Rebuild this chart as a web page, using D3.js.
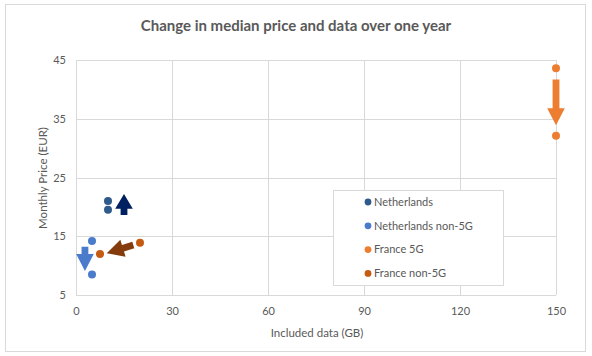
<!DOCTYPE html>
<html><head><meta charset="utf-8">
<script src="https://cdn.jsdelivr.net/npm/d3@7"></script>
<style>body{margin:0;background:#fff}svg{display:block}text{font-family:Lato,"Open Sans",sans-serif;fill:#595959}</style>
</head><body><svg id="c" width="592" height="356"></svg>
<script>
const title = "Change in median price and data over one year";
const xLabel = "Included data (GB)";
const yLabel = "Monthly Price (EUR)";
const xTicks = [0, 30, 60, 90, 120, 150];
const yTicks = [5, 15, 25, 35, 45];
const seriesNames = ["Netherlands", "Netherlands non-5G", "France 5G", "France non-5G"];
const seriesColors = ["#2E5A8C", "#4A7CCB", "#ED7D31", "#C55A11"];
const netherlandsX = [10, 10];
const netherlandsY = [21, 19.5];
const netherlandsNon5gX = [5, 5];
const netherlandsNon5gY = [14.2, 8.5];
const france5gX = [150, 150];
const france5gY = [43.6, 32.1];
const franceNon5gX = [7.5, 20];
const franceNon5gY = [12, 13.9];
// arrows: tail -> tip in data units
const arrowNames = ["Netherlands", "Netherlands non-5G", "France 5G", "France non-5G"];
const arrowColors = ["#002060", "#4A7CCB", "#ED7D31", "#843C0C"];
const arrowFrom = [[15, 18.6], [2.8, 13.2], [150, 41.7], [17.9, 13.5]];
const arrowTo = [[15, 22.2], [2.8, 9.1], [150, 33.9], [9.6, 12.1]];

const svg = d3.select("#c");
svg.append("rect").attr("x", 5.5).attr("y", 4.5).attr("width", 580).attr("height", 347)
  .attr("fill", "#fff").attr("stroke", "#d9d9d9");

const x = d3.scaleLinear().domain([0, 150]).range([76, 556]);
const y = d3.scaleLinear().domain([5, 45]).range([295, 60]);

const g = svg.append("g");
g.selectAll(".hg").data(yTicks).join("line")
  .attr("x1", x(0)).attr("x2", x(150))
  .attr("y1", d => Math.round(y(d)) + 0.5).attr("y2", d => Math.round(y(d)) + 0.5)
  .attr("stroke", "#d9d9d9");
g.selectAll(".vg").data(xTicks).join("line")
  .attr("y1", y(5)).attr("y2", y(45))
  .attr("x1", d => Math.round(x(d)) + 0.5).attr("x2", d => Math.round(x(d)) + 0.5)
  .attr("stroke", "#d9d9d9");

const xa = svg.append("g").attr("transform", `translate(0,${y(5)})`)
  .call(d3.axisBottom(x).tickValues(xTicks).tickSize(0).tickPadding(10));
const ya = svg.append("g").attr("transform", `translate(${x(0)},0)`)
  .call(d3.axisLeft(y).tickValues(yTicks).tickSize(0).tickPadding(10));
[xa, ya].forEach(a => {
  a.select(".domain").remove();
  a.selectAll("text").attr("font-size", 11).attr("fill", "#595959")
    .style("font-family", "Lato, sans-serif");
});
xa.selectAll("text").attr("dy", "0.9em");

svg.append("text").attr("x", 296).attr("y", 31).attr("text-anchor", "middle")
  .attr("font-size", 15).attr("font-weight", "bold").text(title);
svg.append("text").attr("x", 317).attr("y", 337).attr("text-anchor", "middle")
  .attr("font-size", 11.5).text(xLabel);
svg.append("text").attr("transform", "translate(47,178) rotate(-90)").attr("text-anchor", "middle")
  .attr("font-size", 11.5).text(yLabel);

function arrowPath(p0, p1) {
  const x0 = x(p0[0]), y0 = y(p0[1]), x1 = x(p1[0]), y1 = y(p1[1]);
  const dx = x1 - x0, dy = y1 - y0, L = Math.hypot(dx, dy);
  const ux = dx / L, uy = dy / L, nx = -uy, ny = ux;
  const sw = 3.4, hw = 8.8, hl = Math.min(17, L * 0.7);
  const bx = x1 - ux * hl, by = y1 - uy * hl;
  const pts = [
    [x0 + nx * sw, y0 + ny * sw], [bx + nx * sw, by + ny * sw], [bx + nx * hw, by + ny * hw],
    [x1, y1], [bx - nx * hw, by - ny * hw], [bx - nx * sw, by - ny * sw], [x0 - nx * sw, y0 - ny * sw]
  ];
  return "M" + pts.map(p => p.join(",")).join("L") + "Z";
}
svg.append("g").selectAll("path").data(arrowNames).join("path")
  .attr("d", (d, i) => arrowPath(arrowFrom[i], arrowTo[i]))
  .attr("fill", (d, i) => arrowColors[i]);

const series = [
  [netherlandsX, netherlandsY], [netherlandsNon5gX, netherlandsNon5gY],
  [france5gX, france5gY], [franceNon5gX, franceNon5gY]
];
series.forEach((s, i) => {
  svg.append("g").selectAll("circle").data(s[0]).join("circle")
    .attr("cx", d => x(d)).attr("cy", (d, j) => y(s[1][j])).attr("r", 4)
    .attr("fill", seriesColors[i]);
});

const lg = svg.append("g");
lg.append("rect").attr("x", 333.5).attr("y", 190.5).attr("width", 170).attr("height", 95)
  .attr("fill", "#fff").attr("stroke", "#d9d9d9");
const items = lg.selectAll(".li").data(seriesNames).join("g")
  .attr("transform", (d, i) => `translate(368,${202 + i * 23.8})`);
items.append("circle").attr("r", 3.4).attr("fill", (d, i) => seriesColors[i]);
items.append("text").attr("x", 6).attr("dy", "0.35em").attr("font-size", 11).text(d => d);
</script></body></html>
